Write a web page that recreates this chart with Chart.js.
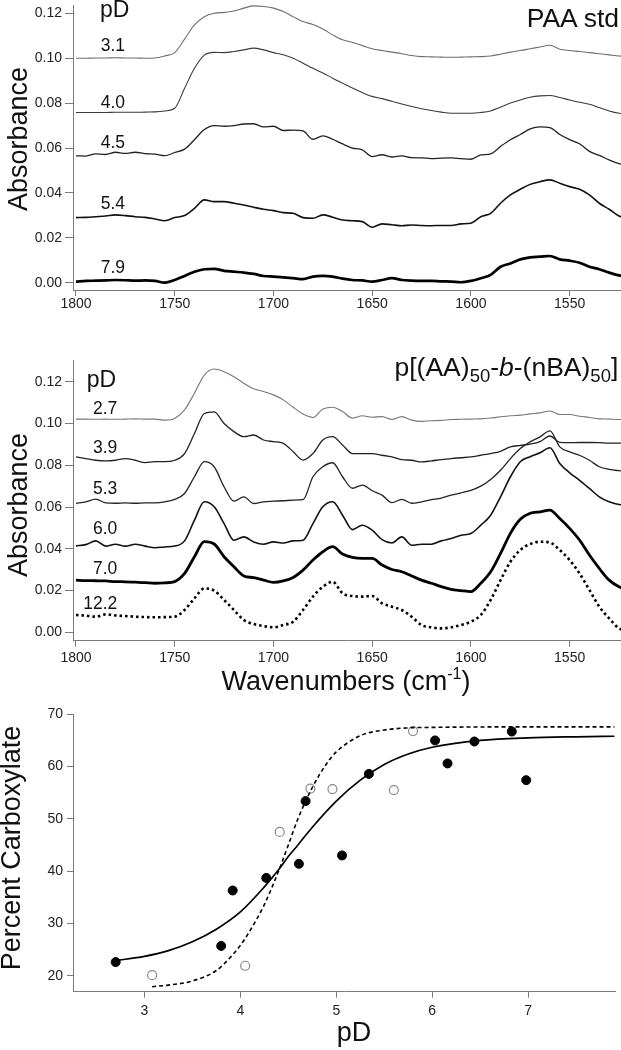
<!DOCTYPE html>
<html><head><meta charset="utf-8">
<script src="https://cdn.jsdelivr.net/npm/chart.js@4.4.0/dist/chart.umd.min.js"></script>
<style>
html,body{margin:0;padding:0;background:#fff;}
body{width:621px;height:1050px;position:relative;overflow:hidden;font-family:"Liberation Sans",Arial,sans-serif;color:#111;}
canvas{position:absolute;left:0;}
.t{position:absolute;white-space:nowrap;line-height:1;}
.lab{font-size:17.5px;}
.rot{position:absolute;white-space:nowrap;line-height:1;transform:translate(-50%,-50%) rotate(-90deg);font-size:27px;}
</style></head><body>
<canvas id="c1" width="621" height="320" style="top:0"></canvas>
<canvas id="c2" width="621" height="360" style="top:320px"></canvas>
<canvas id="c3" width="621" height="370" style="top:680px"></canvas>

<div class="rot" style="left:18px;top:139px;">Absorbance</div>
<div class="t" style="left:100px;top:-2px;font-size:23px;">pD</div>
<div class="t" style="right:2px;top:4.6px;font-size:26.5px;">PAA std</div>
<div class="t lab" style="left:100.7px;top:36.9px;">3.1</div>
<div class="t lab" style="left:100.7px;top:93.5px;">4.0</div>
<div class="t lab" style="left:100.7px;top:133.5px;">4.5</div>
<div class="t lab" style="left:100.7px;top:195.2px;">5.4</div>
<div class="t lab" style="left:100.7px;top:259px;">7.9</div>

<div class="rot" style="left:18px;top:505px;">Absorbance</div>
<div class="t" style="left:86.7px;top:367.5px;font-size:23px;">pD</div>
<div class="t" style="right:2.7px;top:354.3px;font-size:26.5px;">p[(AA)<span style="font-size:18.5px;position:relative;top:6px;">50</span>-<i>b</i>-(nBA)<span style="font-size:18.5px;position:relative;top:6px;">50</span>]</div>
<div class="t lab" style="right:503.7px;top:400.2px;">2.7</div>
<div class="t lab" style="right:503.7px;top:438.5px;">3.9</div>
<div class="t lab" style="right:503.7px;top:480.2px;">5.3</div>
<div class="t lab" style="right:503.7px;top:520.2px;">6.0</div>
<div class="t lab" style="right:503.7px;top:560.2px;">7.0</div>
<div class="t lab" style="right:503.7px;top:594.5px;">12.2</div>
<div class="t" style="left:346px;top:668px;font-size:27px;transform:translateX(-50%);">Wavenumbers (cm<span style="font-size:16px;position:relative;top:-11px;">-1</span>)</div>

<div class="rot" style="left:11px;top:848px;">Percent Carboxylate</div>
<div class="t" style="left:354px;top:1019px;font-size:27px;transform:translateX(-50%);">pD</div>

<script>
// ---------- Data ----------
const wavenumbers = [1800,1795,1790,1785,1780,1775,1770,1765,1760,1755,
 1750,1745,1740,1735,1730,1725,1720,1715,1710,1705,
 1700,1695,1690,1685,1680,1675,1670,1665,1660,1655,
 1650,1645,1640,1635,1630,1625,1620,1615,1610,1605,
 1600,1595,1590,1585,1580,1575,1570,1565,1560,1555,
 1550,1545,1540,1535,1530,1525,1520];

// PAA std spectra (absorbance, offset)
const paa_pD31 = [0.1000,0.1000,0.1001,0.1001,0.1002,0.1001,0.1001,0.1000,0.1001,0.1010,
 0.1025,0.1085,0.1148,0.1185,0.1200,0.1204,0.1210,0.1223,0.1233,0.1230,
 0.1223,0.1208,0.1185,0.1163,0.1150,0.1130,0.1104,0.1082,0.1070,0.1056,
 0.1042,0.1034,0.1027,0.1020,0.1012,0.1007,0.1006,0.1005,0.1004,0.1005,
 0.1006,0.1007,0.1010,0.1018,0.1027,0.1034,0.1042,0.1050,0.1058,0.1040,
 0.1034,0.1030,0.1025,0.1020,0.1015,0.1010,0.1008];
const paa_pD40 = [0.0758,0.0758,0.0758,0.0758,0.0759,0.0759,0.0759,0.0760,0.0761,0.0765,
 0.0777,0.0866,0.0955,0.1014,0.1026,0.1025,0.1030,0.1037,0.1045,0.1037,
 0.1025,0.1015,0.1000,0.0978,0.0955,0.0934,0.0911,0.0889,0.0867,0.0847,
 0.0830,0.0820,0.0808,0.0796,0.0785,0.0775,0.0767,0.0760,0.0755,0.0755,
 0.0755,0.0758,0.0765,0.0782,0.0800,0.0814,0.0826,0.0832,0.0834,0.0825,
 0.0814,0.0804,0.0795,0.0780,0.0765,0.0755,0.0752];
const paa_pD45 = [0.0565,0.0564,0.0574,0.0571,0.0581,0.0576,0.0581,0.0575,0.0573,0.0566,
 0.0580,0.0595,0.0637,0.0682,0.0700,0.0697,0.0700,0.0707,0.0708,0.0694,
 0.0697,0.0678,0.0680,0.0676,0.0639,0.0654,0.0639,0.0618,0.0600,0.0592,
 0.0562,0.0570,0.0560,0.0565,0.0557,0.0556,0.0553,0.0555,0.0556,0.0553,
 0.0550,0.0569,0.0574,0.0607,0.0637,0.0660,0.0685,0.0694,0.0691,0.0660,
 0.0637,0.0619,0.0585,0.0567,0.0547,0.0530,0.0525];
const paa_pD54 = [0.0290,0.0291,0.0294,0.0297,0.0302,0.0299,0.0294,0.0291,0.0284,0.0276,
 0.0290,0.0299,0.0331,0.0369,0.0361,0.0361,0.0354,0.0346,0.0336,0.0327,
 0.0321,0.0312,0.0309,0.0290,0.0287,0.0302,0.0292,0.0279,0.0276,0.0272,
 0.0247,0.0262,0.0258,0.0254,0.0257,0.0255,0.0254,0.0255,0.0255,0.0262,
 0.0265,0.0294,0.0309,0.0354,0.0391,0.0416,0.0438,0.0450,0.0458,0.0443,
 0.0428,0.0416,0.0391,0.0354,0.0327,0.0297,0.0290];
const paa_pD79 = [0.0005,0.0008,0.0009,0.0010,0.0012,0.0011,0.0009,0.0010,0.0008,0.0000,
 0.0012,0.0030,0.0049,0.0060,0.0062,0.0053,0.0049,0.0045,0.0039,0.0030,
 0.0027,0.0024,0.0020,0.0016,0.0027,0.0030,0.0027,0.0018,0.0012,0.0010,
 0.0005,0.0012,0.0020,0.0012,0.0009,0.0008,0.0008,0.0006,0.0005,0.0002,
 0.0008,0.0020,0.0035,0.0071,0.0086,0.0104,0.0113,0.0116,0.0119,0.0104,
 0.0098,0.0089,0.0071,0.0060,0.0045,0.0033,0.0030];

// p[(AA)50-b-(nBA)50] spectra
const blk_pD27 = [0.1021,0.1021,0.1020,0.1021,0.1020,0.1021,0.1022,0.1021,0.1021,0.1016,
 0.1024,0.1065,0.1145,0.1232,0.1261,0.1248,0.1224,0.1193,0.1166,0.1153,
 0.1137,0.1113,0.1078,0.1045,0.1029,0.1069,0.1078,0.1057,0.1026,0.1037,
 0.1030,0.1033,0.1019,0.1033,0.1016,0.1010,0.1013,0.1015,0.1019,0.1020,
 0.1021,0.1022,0.1026,0.1032,0.1037,0.1040,0.1046,0.1051,0.1060,0.1043,
 0.1043,0.1035,0.1029,0.1022,0.1021,0.1019,0.1019];
const blk_pD39 = [0.0840,0.0832,0.0824,0.0821,0.0824,0.0832,0.0824,0.0813,0.0817,0.0817,
 0.0824,0.0856,0.0952,0.1048,0.1056,0.1000,0.0961,0.0937,0.0945,0.0921,
 0.0913,0.0905,0.0865,0.0825,0.0856,0.0921,0.0937,0.0897,0.0856,0.0856,
 0.0856,0.0848,0.0840,0.0827,0.0824,0.0816,0.0821,0.0827,0.0832,0.0836,
 0.0840,0.0848,0.0856,0.0867,0.0888,0.0895,0.0901,0.0913,0.0940,0.0910,
 0.0908,0.0909,0.0909,0.0908,0.0906,0.0906,0.0905];
const blk_pD53 = [0.0618,0.0625,0.0638,0.0620,0.0618,0.0620,0.0618,0.0620,0.0620,0.0625,
 0.0637,0.0665,0.0745,0.0817,0.0793,0.0697,0.0628,0.0649,0.0617,0.0625,
 0.0628,0.0630,0.0633,0.0635,0.0745,0.0793,0.0812,0.0745,0.0690,0.0705,
 0.0678,0.0657,0.0621,0.0637,0.0618,0.0625,0.0635,0.0643,0.0657,0.0668,
 0.0680,0.0700,0.0732,0.0776,0.0832,0.0880,0.0912,0.0936,0.0965,0.0888,
 0.0864,0.0848,0.0824,0.0793,0.0780,0.0774,0.0770];
const blk_pD60 = [0.0414,0.0420,0.0438,0.0413,0.0422,0.0413,0.0422,0.0413,0.0405,0.0409,
 0.0413,0.0438,0.0537,0.0625,0.0601,0.0521,0.0441,0.0457,0.0433,0.0422,
 0.0433,0.0428,0.0438,0.0441,0.0521,0.0601,0.0625,0.0561,0.0492,0.0513,
 0.0489,0.0444,0.0428,0.0457,0.0417,0.0422,0.0422,0.0438,0.0449,0.0465,
 0.0473,0.0513,0.0561,0.0649,0.0745,0.0817,0.0841,0.0860,0.0884,0.0809,
 0.0764,0.0728,0.0689,0.0649,0.0625,0.0612,0.0610];
const blk_pD70 = [0.0250,0.0248,0.0247,0.0246,0.0243,0.0242,0.0240,0.0238,0.0235,0.0237,
 0.0243,0.0282,0.0362,0.0434,0.0423,0.0362,0.0314,0.0270,0.0262,0.0250,
 0.0239,0.0246,0.0263,0.0298,0.0346,0.0386,0.0410,0.0375,0.0359,0.0354,
 0.0354,0.0322,0.0301,0.0290,0.0270,0.0250,0.0235,0.0219,0.0206,0.0200,
 0.0195,0.0235,0.0290,0.0378,0.0474,0.0541,0.0570,0.0577,0.0585,0.0545,
 0.0498,0.0442,0.0370,0.0306,0.0250,0.0218,0.0200];
const blk_pD122 = [0.0083,0.0080,0.0075,0.0086,0.0081,0.0078,0.0075,0.0073,0.0072,0.0073,
 0.0075,0.0107,0.0163,0.0210,0.0200,0.0155,0.0107,0.0059,0.0040,0.0030,
 0.0024,0.0035,0.0051,0.0107,0.0171,0.0218,0.0242,0.0187,0.0174,0.0171,
 0.0174,0.0139,0.0123,0.0107,0.0075,0.0035,0.0024,0.0019,0.0024,0.0035,
 0.0051,0.0083,0.0155,0.0250,0.0338,0.0394,0.0423,0.0434,0.0430,0.0394,
 0.0346,0.0282,0.0203,0.0123,0.0067,0.0019,0.0005];

// Titration: percent carboxylate vs pD
const filledPD  = [2.70, 3.80, 3.92, 4.27, 4.61, 4.68, 5.06, 5.34, 6.03, 6.16, 6.44, 6.83, 6.98];
const filledPct = [22.6, 25.7, 36.3, 38.7, 41.4, 53.4, 43.0, 58.6, 65.0, 60.6, 64.8, 66.7, 57.4];
const openPD    = [3.08, 4.05, 4.41, 4.73, 4.96, 5.60, 5.80];
const openPct   = [20.1, 21.9, 47.5, 55.8, 55.7, 55.5, 66.8];
const solidFitPD  = [2.7, 3.0, 3.25, 3.5, 3.75, 4.0, 4.25, 4.4, 4.5, 4.6, 4.75, 5.0, 5.25, 5.5, 5.75, 6.0, 6.5, 7.0, 7.5, 7.9];
const solidFitPct = [22.9, 23.7, 24.8, 26.5, 28.9, 32.2, 37.0, 40.3, 42.8, 45.0, 48.4, 53.4, 57.4, 60.4, 62.4, 63.7, 65.0, 65.5, 65.7, 65.8];
const dashFitPD  = [3.08, 3.25, 3.5, 3.75, 3.9, 4.0, 4.1, 4.25, 4.4, 4.5, 4.6, 4.75, 4.9, 5.0, 5.25, 5.5, 5.75, 6.0, 7.0, 7.9];
const dashFitPct = [17.9, 18.2, 19.0, 21.0, 23.6, 25.8, 28.6, 33.6, 40.1, 45.0, 50.0, 56.0, 60.6, 62.8, 65.9, 67.0, 67.4, 67.5, 67.6, 67.6];

const absTicks = [0.00, 0.02, 0.04, 0.06, 0.08, 0.10, 0.12];

// ---------- Helpers ----------
const AXIS = '#7a7a7a';
const TICK_FONT = {family: 'Liberation Sans, Arial, sans-serif', size: 14};
const pts = (xs, ys) => xs.map((x, i) => ({x: x, y: ys[i]}));
function fixW(w){ return s => { s.width = w; s.paddingTop = 0; s.paddingBottom = 0; s.paddingLeft = 0; s.paddingRight = 0; }; }
function fixH(h){ return s => { s.height = h; s.paddingTop = 0; s.paddingBottom = 0; s.paddingLeft = 0; s.paddingRight = 0; }; }
function spec(ys, color, width, dash){
  return {data: pts(wavenumbers, ys), showLine: true, pointRadius: 0, borderColor: color,
    borderWidth: width, borderDash: dash || [], cubicInterpolationMode: 'monotone', fill: false};
}
function specOptions(yMin, yMax, padTop, xH, xPad){
  return {
    responsive: false, animation: false, devicePixelRatio: 1,
    layout: {padding: {top: padTop, left: 0, right: 0, bottom: 0}},
    plugins: {legend: {display: false}, tooltip: {enabled: false}},
    scales: {
      x: {type: 'linear', reverse: true, min: 1524, max: 1801.5,
        afterFit: fixH(xH),
        grid: {drawOnChartArea: false, tickLength: 6, color: AXIS},
        border: {color: AXIS, width: 1},
        ticks: {stepSize: 50, includeBounds: false, autoSkip: false, maxRotation: 0, padding: xPad,
          color: '#222', font: TICK_FONT, callback: v => String(v)}},
      y: {type: 'linear', min: yMin, max: yMax,
        afterFit: fixW(73),
        afterBuildTicks: s => { s.ticks = absTicks.map(v => ({value: v})); },
        grid: {drawOnChartArea: false, tickLength: 8, color: AXIS},
        border: {color: AXIS, width: 1},
        ticks: {padding: 3, color: '#222', font: TICK_FONT, callback: v => v.toFixed(2)}}
    }
  };
}

// ---------- Chart 1: PAA std ----------
new Chart(document.getElementById('c1'), {
  type: 'scatter',
  data: {datasets: [
    spec(paa_pD31, '#6e6e6e', 1.1),
    spec(paa_pD40, '#3a3a3a', 1.1),
    spec(paa_pD45, '#222', 1.3),
    spec(paa_pD54, '#111', 1.6),
    spec(paa_pD79, '#000', 2.7)
  ]},
  options: specOptions(-0.00325, 0.1237, 5, 30, 0)
});

// ---------- Chart 2: block copolymer ----------
new Chart(document.getElementById('c2'), {
  type: 'scatter',
  data: {datasets: [
    spec(blk_pD27, '#777', 1.1),
    spec(blk_pD39, '#222', 1.3),
    spec(blk_pD53, '#222', 1.3),
    spec(blk_pD60, '#111', 1.6),
    spec(blk_pD70, '#000', 2.8),
    spec(blk_pD122, '#000', 2.6, [2.5, 3])
  ]},
  options: specOptions(-0.004, 0.1304, 40, 39.3, 3)
});

// ---------- Chart 3: titration ----------
new Chart(document.getElementById('c3'), {
  type: 'scatter',
  data: {datasets: [
    {data: pts(solidFitPD, solidFitPct), showLine: true, pointRadius: 0, borderColor: '#000', borderWidth: 1.7, cubicInterpolationMode: 'monotone'},
    {data: pts(dashFitPD, dashFitPct), showLine: true, pointRadius: 0, borderColor: '#000', borderWidth: 1.6, borderDash: [4, 3], cubicInterpolationMode: 'monotone'},
    {data: pts(openPD, openPct), showLine: false, pointRadius: 4.5, pointBackgroundColor: '#fff', pointBorderColor: '#8a8a8a', pointBorderWidth: 1.2},
    {data: pts(filledPD, filledPct), showLine: false, pointRadius: 4.5, pointBackgroundColor: '#000', pointBorderColor: '#000', pointBorderWidth: 1}
  ]},
  options: {
    responsive: false, animation: false, devicePixelRatio: 1,
    layout: {padding: {top: 34.3, left: 0, right: 0, bottom: 0}},
    plugins: {legend: {display: false}, tooltip: {enabled: false}},
    scales: {
      x: {type: 'linear', min: 2.255, max: 7.909,
        afterFit: fixH(58.3),
        grid: {drawOnChartArea: false, tickLength: 6, color: AXIS},
        border: {color: AXIS, width: 1},
        ticks: {stepSize: 1, includeBounds: false, autoSkip: false, maxRotation: 0, padding: 5,
          color: '#222', font: TICK_FONT, callback: v => String(v)}},
      y: {type: 'linear', min: 16.94, max: 70,
        afterFit: fixW(73),
        grid: {drawOnChartArea: false, tickLength: 6, color: AXIS},
        border: {color: AXIS, width: 1},
        ticks: {stepSize: 10, includeBounds: false, padding: 4, color: '#222', font: TICK_FONT, callback: v => String(v)}}
    }
  }
});
</script>
</body></html>
